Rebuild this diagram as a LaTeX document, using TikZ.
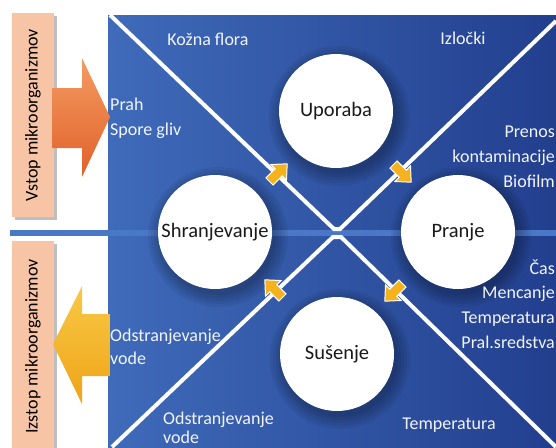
\documentclass[tikz,border=0pt]{standalone}
\usepackage{fontspec}
\setmainfont{Carlito}
\definecolor{bgL}{HTML}{3F6BBA}
\definecolor{bgR}{HTML}{223F8E}
\definecolor{salmon}{HTML}{F7C5A6}
\definecolor{band}{HTML}{4A78C6}
\definecolor{ylw}{HTML}{F6B21C}
\definecolor{txtw}{HTML}{F2F4FA}
\definecolor{orT}{HTML}{F39C62}
\definecolor{orM}{HTML}{EE7A38}
\definecolor{orB}{HTML}{E2602A}
\definecolor{yeT}{HTML}{F9C846}
\definecolor{yeB}{HTML}{EEA417}
\begin{document}
\begin{tikzpicture}[x=1pt,y=-1pt,
  lbl/.style={text=txtw, font=\fontsize{18}{24}\selectfont, inner sep=0pt},
  circ/.style={circle, fill=white, minimum size=114pt, inner sep=0pt,
    font=\fontsize{20.5}{24}\selectfont, text=black!90},
  sidebox/.style={fill=salmon, rotate=90, minimum height=42pt, inner sep=0pt,
    font=\fontsize{18}{20}\selectfont, text=black},
  smallarrow/.style={fill=ylw, draw=white, line width=1pt, line join=miter},
  diag/.style={draw=white, line width=4pt, line join=miter},
  csh/.style={fill=black, opacity=0.06}
]
\useasboundingbox (0,0) rectangle (556,447);
\fill[white] (0,0) rectangle (556,447);
% blue panel
\shade[left color=bgL, right color=bgR] (108,15) rectangle (556,447);
% horizontal band
\draw[band, line width=6pt] (10,233) -- (556,233);
% diagonal lines
\draw[diag] (110,15) -- (334,229) -- (340,229) -- (556,21);
\draw[diag] (112,447) -- (333,237) -- (341,237) -- (556,447);
% side boxes with shadows
\fill[black, opacity=0.25] (15,16) rectangle (57,220);
\fill[black, opacity=0.25] (15,244) rectangle (57,452);
\node[sidebox, minimum width=204pt] (vstop) at (33,115) {Vstop mikroorganizmov};
\node[sidebox, minimum width=211pt] (izstop) at (33,346.5) {Izstop mikroorganizmov};
% big arrows
\shade[top color=orT, middle color=orM, bottom color=orB]
  (52,88) -- (82,88) -- (82,58) -- (110,117) -- (82,177) -- (82,148) -- (52,148) -- cycle;
\shade[top color=yeT, bottom color=yeB]
  (110,314) -- (82,314) -- (82,286) -- (53,344) -- (82,404) -- (82,376) -- (110,376) -- cycle;
% circle shadows
\foreach \cx/\cy in {336/111, 458/232, 215/232, 337/354}{
  \foreach \r in {58,61,64,67,70}{
    \fill[csh] (\cx+3,\cy+5) circle (\r);
  }
}
% circles
\node[circ] (upo) at (336,111) {Uporaba};
\node[circ] (pra) at (458,232) {Pranje};
\node[circ] (shr) at (215,232) {Shranjevanje};
\node[circ] (sus) at (337,354) {Sušenje};
% small arrows (clockwise)
\foreach \px/\py/\ang in {278/173/45, 402/173/-45, 394/292/-135, 274/289/135}{
  \begin{scope}[shift={(\px,\py)}, rotate=\ang]
    \draw[smallarrow] (-12,-5) -- (1,-5) -- (1,-11) -- (13,0) -- (1,11) -- (1,5) -- (-12,5) -- cycle;
  \end{scope}
}
% labels
\node[lbl, anchor=base] (kf) at (208,45) {Kožna flora};
\node[lbl, anchor=base] (iz) at (463,44) {Izločki};
\node[lbl, anchor=base west] (prah) at (110,110) {Prah};
\node[lbl, anchor=base west] (sg) at (110,135) {Spore gliv};
\node[lbl, anchor=base east] (pr1) at (555,137) {Prenos};
\node[lbl, anchor=base east] (pr2) at (555,162) {kontaminacije};
\node[lbl, anchor=base east] (pr3) at (555,187) {Biofilm};
\node[lbl, anchor=base east] (w1) at (555,274) {Čas};
\node[lbl, anchor=base east] (w2) at (555,298) {Mencanje};
\node[lbl, anchor=base east] (w3) at (555,323) {Temperatura};
\node[lbl, anchor=base east] (w4) at (555,348) {Pral.sredstva};
\node[lbl, anchor=base west] (od1) at (110,341) {Odstranjevanje};
\node[lbl, anchor=base west] (od2) at (110,364) {vode};
\node[lbl, anchor=base west] (od3) at (163,424) {Odstranjevanje};
\node[lbl, anchor=base west] (od4) at (163,443) {vode};
\node[lbl, anchor=base] (tmp) at (449,429) {Temperatura};
\end{tikzpicture}
\end{document}
